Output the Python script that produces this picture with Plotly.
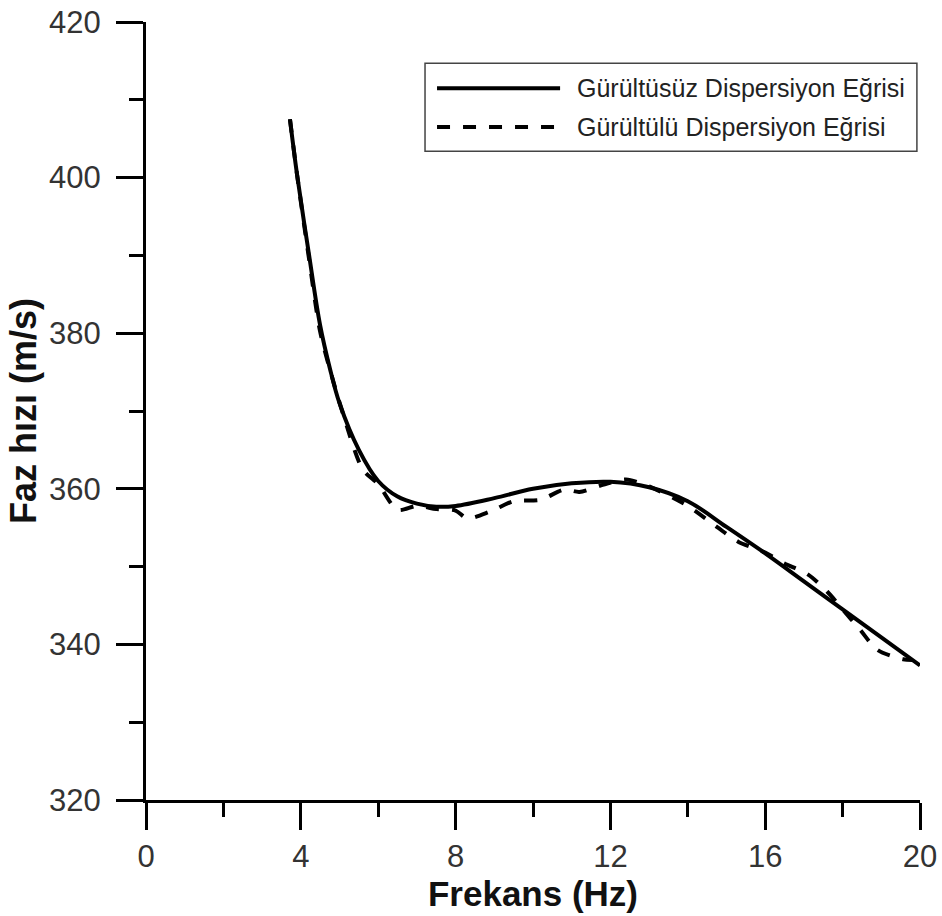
import plotly.graph_objects as go

# Noise-free dispersion curve (Gürültüsüz)
freq_clean = [3.72, 3.9, 4.2, 4.5, 4.75, 5.0, 5.5, 6.0, 6.5, 7.0, 7.5, 8.0, 9.0, 10.0,
              11.0, 12.0, 13.0, 14.0, 15.0, 16.0, 17.0, 18.0, 19.0, 20.0]
vel_clean = [407.5, 400.5, 390.5, 381.0, 375.5, 371.0, 365.0, 361.0, 359.0, 358.1, 357.7,
             357.8, 358.8, 360.0, 360.7, 360.9, 360.2, 358.4, 355.1, 351.7, 348.1, 344.5,
             340.9, 337.3]

# Noisy dispersion curve (Gürültülü)
freq_noisy = [3.72, 3.9, 4.2, 4.5, 4.8, 5.1, 5.6, 6.0, 6.5, 7.0, 7.5, 8.0, 8.3, 8.9, 9.5,
              10.2, 10.8, 11.2, 11.8, 12.4, 13.0, 14.0, 14.75, 15.3, 16.0, 16.5, 17.1,
              17.6, 18.0, 18.45, 18.9, 19.56, 19.8]
vel_noisy = [407.5, 400.5, 390.0, 380.2, 374.5, 369.5, 362.5, 360.6, 357.3, 357.8, 357.4,
             357.2, 356.2, 357.1, 358.4, 358.6, 359.9, 359.6, 360.5, 361.2, 360.3, 357.8,
             355.1, 353.2, 351.8, 350.4, 349.0, 346.8, 344.5, 341.9, 339.3, 338.1, 338.0]

series_names = ["Gürültüsüz Dispersiyon Eğrisi", "Gürültülü Dispersiyon Eğrisi"]
x_ticks = [0, 4, 8, 12, 16, 20]
y_ticks = [320, 340, 360, 380, 400, 420]

fig = go.Figure()
fig.add_trace(go.Scatter(
    x=freq_noisy, y=vel_noisy, mode="lines", name=series_names[1],
    line=dict(color="black", width=4, dash="13px,13px", shape="spline", smoothing=0.8),
    showlegend=False,
))
fig.add_trace(go.Scatter(
    x=freq_clean, y=vel_clean, mode="lines", name=series_names[0],
    line=dict(color="black", width=4, shape="spline", smoothing=1.0),
    showlegend=False,
))

# Manual legend (box, line samples, labels)
fig.add_shape(type="rect", xref="paper", yref="paper", x0=0.3605, x1=0.996, y0=0.834, y1=0.947,
              line=dict(color="#444", width=1.5), fillcolor="white", layer="below")
fig.add_shape(type="line", xref="paper", yref="paper", x0=0.376, x1=0.535, y0=0.915, y1=0.915,
              line=dict(color="black", width=4))
fig.add_shape(type="line", xref="paper", yref="paper", x0=0.376, x1=0.535, y0=0.865, y1=0.865,
              line=dict(color="black", width=4, dash="13px,13px"))
for yy, txt in [(0.915, series_names[0]), (0.865, series_names[1])]:
    fig.add_annotation(xref="paper", yref="paper", x=0.554, y=yy, text=txt, showarrow=False,
                       xanchor="left", yanchor="middle",
                       font=dict(family="Liberation Sans, Arial", size=25, color="#222"))

fig.update_layout(
    width=942, height=916,
    margin=dict(l=146, r=22, t=22, b=116, autoexpand=False),
    plot_bgcolor="white", paper_bgcolor="white",
    font=dict(family="Liberation Sans, Arial", color="#333"),
)
fig.update_xaxes(
    range=[0, 20], tickvals=x_ticks, ticktext=[str(v) for v in x_ticks],
    ticks="outside", ticklen=27, tickwidth=3, tickcolor="black", ticklabelstandoff=0,
    ticklabeloverflow="allow",
    showline=True, linewidth=3, linecolor="black", showgrid=False, zeroline=False,
    tickfont=dict(size=31, color="#333"), automargin=False,
    minor=dict(dtick=2, ticks="outside", ticklen=14, tickwidth=3, tickcolor="black", showgrid=False),
    title=dict(text="<b>Frekans (Hz)</b>", font=dict(size=35, color="#111"), standoff=1),
)
fig.update_yaxes(
    range=[320, 420], tickvals=y_ticks, ticktext=[str(v) for v in y_ticks],
    ticks="outside", ticklen=27, tickwidth=3, tickcolor="black", ticklabelstandoff=9,
    ticklabeloverflow="allow",
    showline=True, linewidth=3, linecolor="black", showgrid=False, zeroline=False,
    tickfont=dict(size=31, color="#333"), automargin=False,
    minor=dict(dtick=10, ticks="outside", ticklen=14, tickwidth=3, tickcolor="black", showgrid=False),
    title=dict(text="<b>Faz hızı (m/s)</b>", font=dict(size=36, color="#111"), standoff=2),
)

# remove the default 8px page margin so the figure sits at the window's top-left corner
fig.write_html("out.html", config={"displayModeBar": False},
               post_script="document.body.style.margin='0';")
